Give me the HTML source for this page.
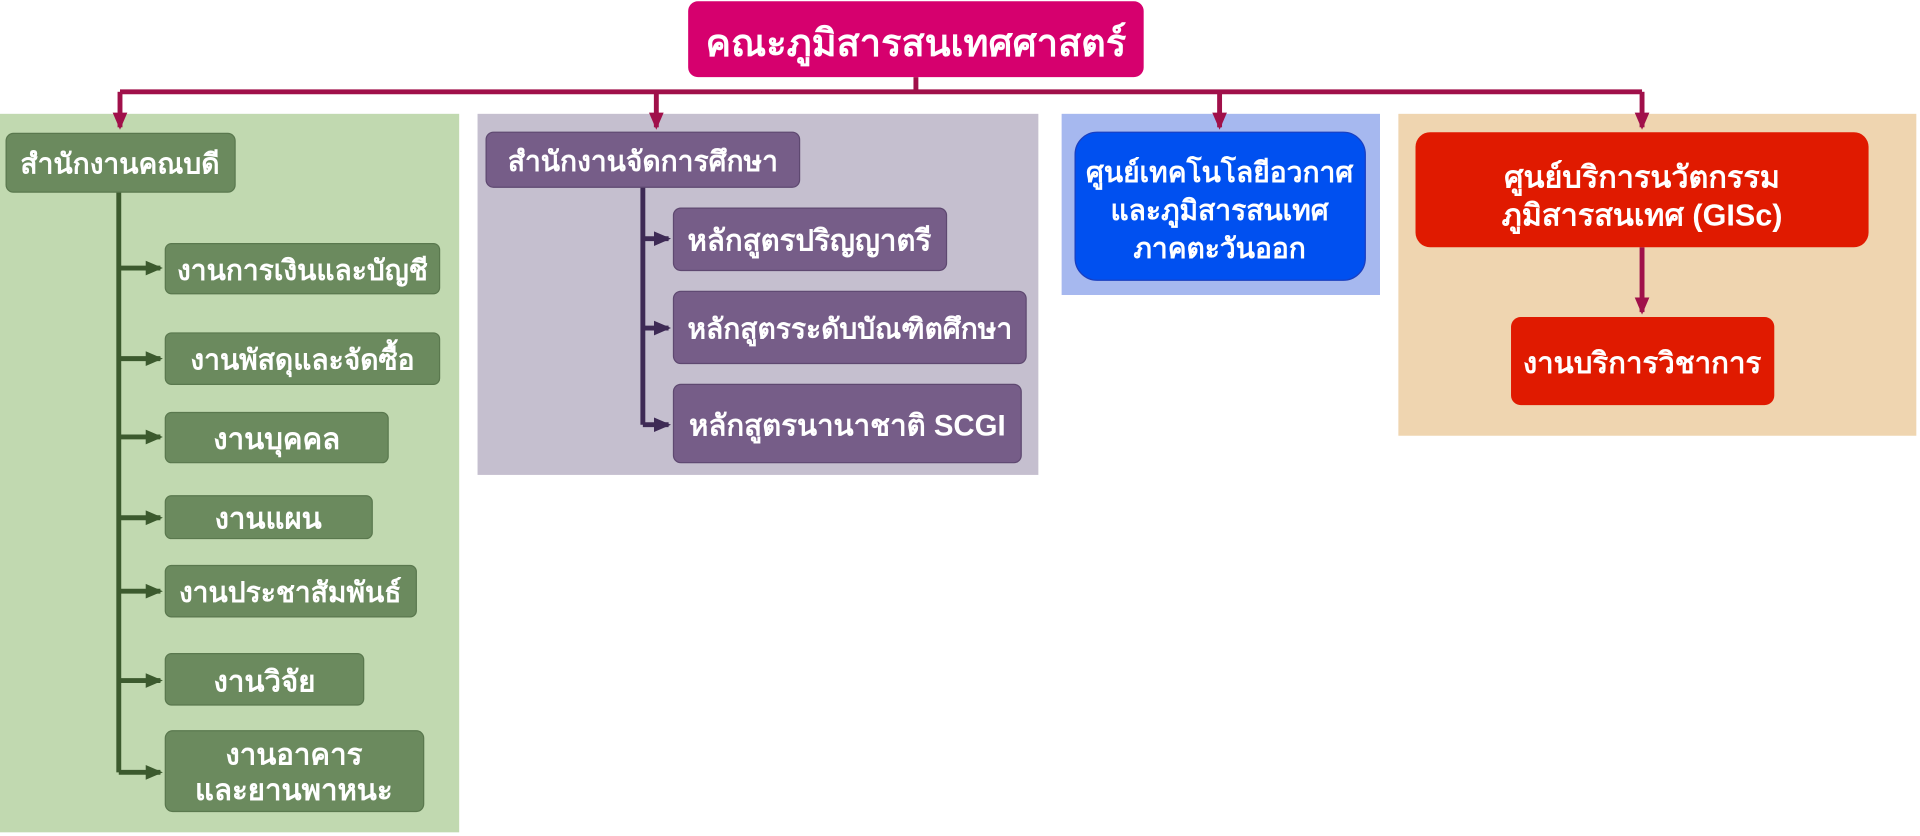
<!DOCTYPE html>
<html><head><meta charset="utf-8"><style>
html,body{margin:0;padding:0;background:#fff;width:1920px;height:836px;overflow:hidden}
svg text{font-family:"Liberation Sans","DejaVu Sans",sans-serif;font-weight:bold;fill:#fff;text-anchor:middle;dominant-baseline:central}
</style></head><body>
<svg width="1920" height="836" viewBox="0 0 1568 683" preserveAspectRatio="none" xmlns="http://www.w3.org/2000/svg">
<defs>
<marker id="ar" markerWidth="4" markerHeight="4" refX="3" refY="2" orient="auto" markerUnits="strokeWidth"><path d="M0,0.5 L3.5,2 L0,3.5 Z" fill="#a0104a"/></marker>
<marker id="ag" markerWidth="4" markerHeight="4" refX="3" refY="2" orient="auto" markerUnits="strokeWidth"><path d="M0,0.5 L3.5,2 L0,3.5 Z" fill="#3c5a2e"/></marker>
<marker id="ap" markerWidth="4" markerHeight="4" refX="3" refY="2" orient="auto" markerUnits="strokeWidth"><path d="M0,0.5 L3.5,2 L0,3.5 Z" fill="#3e2a55"/></marker>
</defs>
<rect x="0" y="93" width="375" height="587" fill="#c1d9b0"/>
<rect x="390" y="93" width="458" height="295" fill="#c5bfcf"/>
<rect x="867" y="93" width="260" height="148" fill="#a6b8ef"/>
<rect x="1142" y="93" width="423" height="263" fill="#efd5b0"/>
<g stroke="#a0104a" stroke-width="4" fill="none">
<path d="M748 63 V75 M98 75 H1341"/>
<path d="M98 75 V104" marker-end="url(#ar)"/>
<path d="M536 75 V104" marker-end="url(#ar)"/>
<path d="M996 75 V104" marker-end="url(#ar)"/>
<path d="M1341 75 V104" marker-end="url(#ar)"/>
<path d="M1341 202 V255" marker-end="url(#ar)"/>
</g>
<g stroke="#3c5a2e" stroke-width="4" fill="none">
<path d="M97 157 V631"/>
<path d="M97 219 H131" marker-end="url(#ag)"/>
<path d="M97 293 H131" marker-end="url(#ag)"/>
<path d="M97 357 H131" marker-end="url(#ag)"/>
<path d="M97 423 H131" marker-end="url(#ag)"/>
<path d="M97 483 H131" marker-end="url(#ag)"/>
<path d="M97 556 H131" marker-end="url(#ag)"/>
<path d="M97 631 H131" marker-end="url(#ag)"/>
</g>
<g stroke="#3e2a55" stroke-width="4" fill="none">
<path d="M525 153 V347"/>
<path d="M525 195 H546" marker-end="url(#ap)"/>
<path d="M525 268 H546" marker-end="url(#ap)"/>
<path d="M525 347 H546" marker-end="url(#ap)"/>
</g>
<rect x="562" y="1" width="372" height="62" rx="8" fill="#d6006e"/>
<text x="748" y="36" font-size="31">คณะภูมิสารสนเทศศาสตร์</text>
<g fill="#6b8a5e" stroke="#5a784e" stroke-width="1">
<rect x="5" y="109" width="187" height="48" rx="6"/>
<rect x="135" y="199" width="224" height="41" rx="5"/>
<rect x="135" y="272" width="224" height="42" rx="5"/>
<rect x="135" y="337" width="182" height="41" rx="5"/>
<rect x="135" y="405" width="169" height="35" rx="5"/>
<rect x="135" y="462" width="205" height="42" rx="5"/>
<rect x="135" y="534" width="162" height="42" rx="5"/>
<rect x="135" y="597" width="211" height="66" rx="6"/>
</g>
<text x="98" y="134" font-size="23">สำนักงานคณบดี</text>
<text x="247" y="221" font-size="23">งานการเงินและบัญชี</text>
<text x="247" y="294" font-size="23">งานพัสดุและจัดซื้อ</text>
<text x="226" y="359" font-size="24">งานบุคคล</text>
<text x="219" y="424" font-size="24">งานแผน</text>
<text x="237" y="484" font-size="23">งานประชาสัมพันธ์</text>
<text x="216" y="557" font-size="24">งานวิจัย</text>
<text x="240" y="617" font-size="24">งานอาคาร</text>
<text x="240" y="646" font-size="24">และยานพาหนะ</text>
<g fill="#765d88" stroke="#5e4870" stroke-width="1">
<rect x="397" y="108" width="256" height="45" rx="6"/>
<rect x="550" y="170" width="223" height="51" rx="6"/>
<rect x="550" y="238" width="288" height="59" rx="6"/>
<rect x="550" y="314" width="284" height="64" rx="6"/>
</g>
<text x="525" y="132" font-size="23">สำนักงานจัดการศึกษา</text>
<text x="661" y="197" font-size="24">หลักสูตรปริญญาตรี</text>
<text x="694" y="269" font-size="23">หลักสูตรระดับบัณฑิตศึกษา</text>
<text x="692" y="348" font-size="24">หลักสูตรนานาชาติ SCGI</text>
<rect x="878" y="108" width="237" height="121" rx="18" fill="#0050f0" stroke="#1a3fc0" stroke-width="1"/>
<text x="996" y="141" font-size="23">ศูนย์เทคโนโลยีอวกาศ</text>
<text x="996" y="172" font-size="23">และภูมิสารสนเทศ</text>
<text x="996" y="203" font-size="23">ภาคตะวันออก</text>
<rect x="1156" y="108" width="370" height="94" rx="12" fill="#e01a00"/>
<text x="1341" y="145" font-size="25">ศูนย์บริการนวัตกรรม</text>
<text x="1341" y="176" font-size="25">ภูมิสารสนเทศ (GISc)</text>
<rect x="1234" y="259" width="215" height="72" rx="8" fill="#e01a00"/>
<text x="1341" y="297" font-size="24">งานบริการวิชาการ</text>
</svg>
</body></html>
